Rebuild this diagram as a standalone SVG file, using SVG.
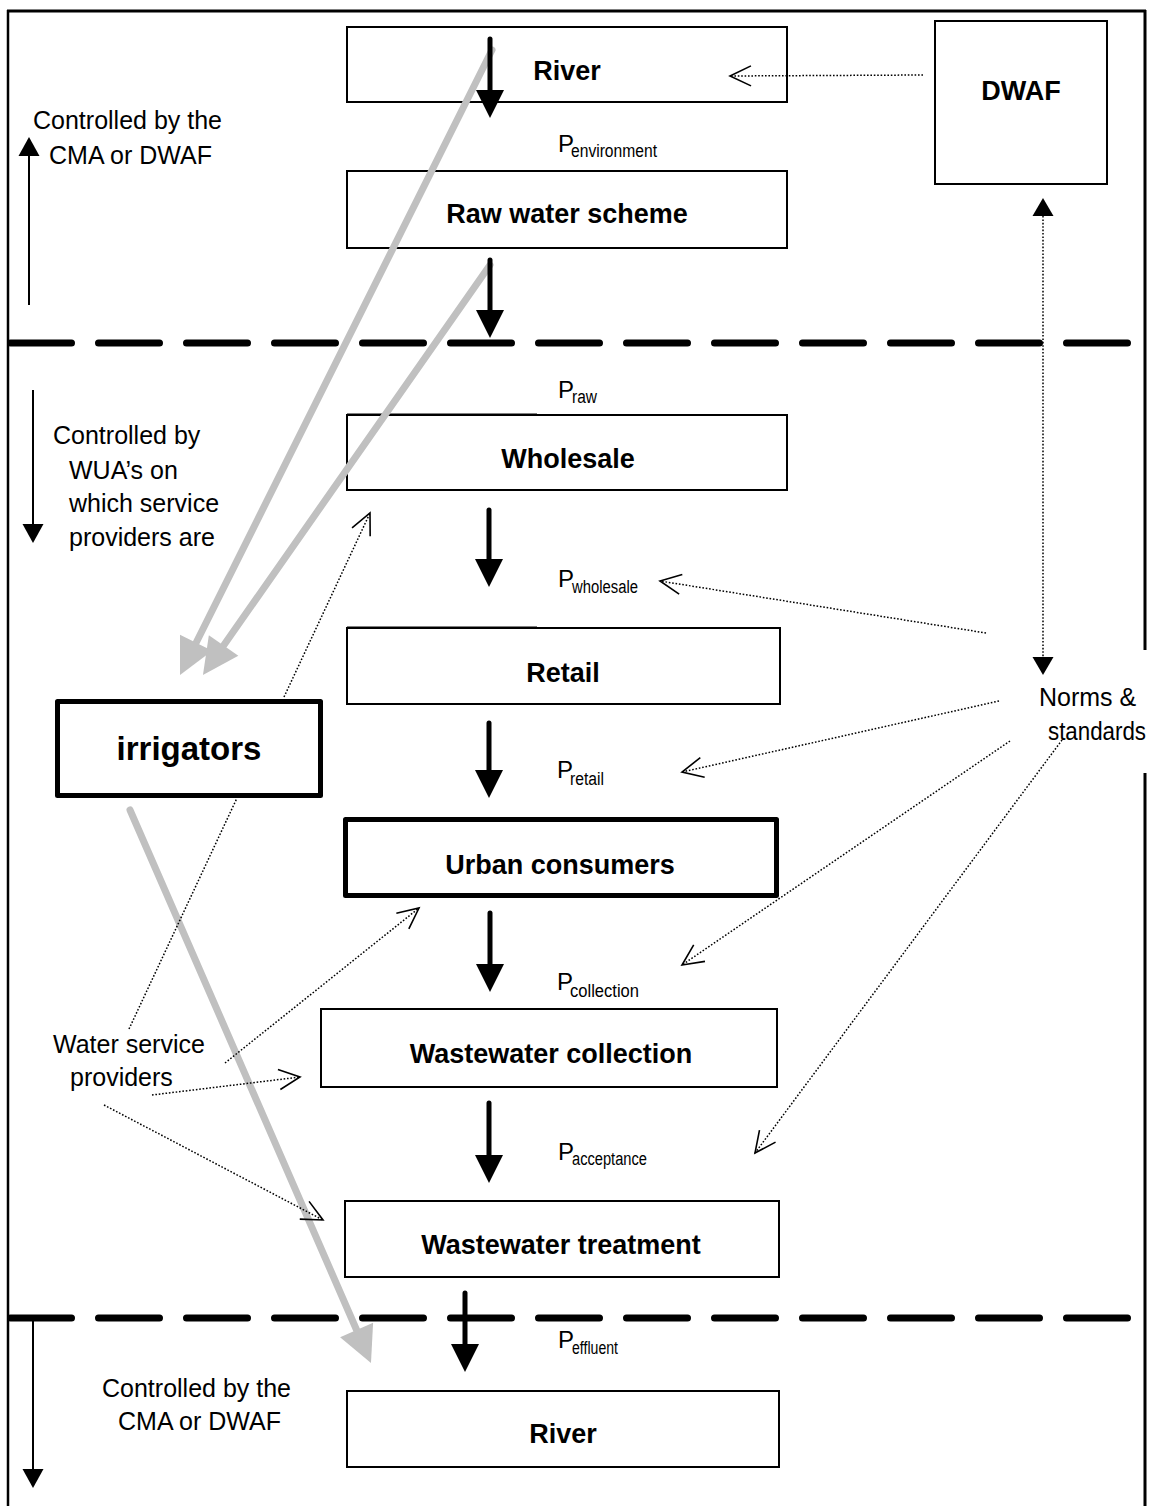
<svg xmlns="http://www.w3.org/2000/svg" width="1156" height="1506" viewBox="0 0 1156 1506">
<defs>
<style>
.box{fill:#fff;stroke:#000;stroke-width:2}
.thick{fill:#fff;stroke:#000;stroke-width:5;stroke-linejoin:round}
.bt{font-family:"Liberation Sans",Arial,sans-serif;font-weight:bold;font-size:27px;text-anchor:middle;fill:#000}
.lbl{font-family:"Liberation Sans",Arial,sans-serif;font-size:25px;fill:#000}
.pl{font-family:"Liberation Sans",Arial,sans-serif;font-size:24px;fill:#000}
.sub{font-size:18px}
.frame{stroke:#000;fill:none}
.dash{stroke:#000;stroke-width:7;stroke-linecap:round;stroke-dasharray:61 27;fill:none}
.flow{stroke:#000;stroke-width:5;stroke-linecap:round;fill:none;marker-end:url(#ah)}
.gray{stroke:#c0c0c0;stroke-width:7;stroke-linecap:round;fill:none;marker-end:url(#gh)}
.dot{stroke:#000;stroke-width:1.5;stroke-dasharray:1.6 1.8;fill:none}
.dotc{marker-end:url(#ch)}
.ctrl{stroke:#000;stroke-width:2;fill:none;marker-end:url(#sh)}
</style>
<marker id="ah" markerUnits="userSpaceOnUse" markerWidth="30" markerHeight="30" refX="0" refY="14" orient="auto" overflow="visible"><path d="M0,0 L28,14 L0,28 z" fill="#000"/></marker>
<marker id="gh" markerUnits="userSpaceOnUse" markerWidth="38" markerHeight="38" refX="0" refY="18" orient="auto" overflow="visible"><path d="M0,0 L36,18 L0,36 z" fill="#c0c0c0"/></marker>
<marker id="sh" markerUnits="userSpaceOnUse" markerWidth="22" markerHeight="22" refX="0" refY="10.5" orient="auto" overflow="visible"><path d="M0,0 L19,10.5 L0,21 z" fill="#000"/></marker>
<marker id="dh" markerUnits="userSpaceOnUse" markerWidth="22" markerHeight="22" refX="0" refY="10.5" orient="auto-start-reverse" overflow="visible"><path d="M0,0 L18,10.5 L0,21 z" fill="#000"/></marker>
<marker id="ch" markerUnits="userSpaceOnUse" markerWidth="24" markerHeight="24" refX="0" refY="0" orient="auto" overflow="visible"><path d="M-21,-10 L0,0 L-21,10" fill="none" stroke="#000" stroke-width="1.6" stroke-dasharray="none"/></marker>
</defs>
<rect width="1156" height="1506" fill="#fff"/>

<g id="frame">
<line class="frame" x1="7" y1="11" x2="1146" y2="11" stroke-width="3"/>
<line class="frame" x1="8" y1="10" x2="8" y2="1506" stroke-width="2.5"/>
<line class="frame" x1="1145" y1="10" x2="1145" y2="650" stroke-width="3"/>
<line class="frame" x1="1145" y1="773" x2="1145" y2="1506" stroke-width="3"/>
<line class="dash" x1="10.5" y1="343" x2="1129.5" y2="343"/>
<line class="dash" x1="10.5" y1="1318" x2="1129.5" y2="1318"/>
</g>

<g id="control-labels">
<line class="ctrl" x1="29" y1="305" x2="29" y2="156"/>
<text class="lbl" x="33" y="129">Controlled by the</text>
<text class="lbl" x="49" y="164">CMA or DWAF</text>
<line class="ctrl" x1="33" y1="390" x2="33" y2="524"/>
<text class="lbl" x="53" y="444">Controlled by</text>
<text class="lbl" x="69" y="479">WUA’s on</text>
<text class="lbl" x="69" y="512">which service</text>
<text class="lbl" x="69" y="546">providers are</text>
<line class="ctrl" x1="33" y1="1318" x2="33" y2="1469"/>
<text class="lbl" x="102" y="1397">Controlled by the</text>
<text class="lbl" x="118" y="1430">CMA or DWAF</text>
</g>

<g id="river-top">
<rect class="box" x="347" y="27" width="440" height="75"/>
<text class="bt" x="567" y="80">River</text>
</g>
<g id="dwaf">
<rect class="box" x="935" y="21" width="172" height="163"/>
<text class="bt" x="1021" y="100">DWAF</text>
</g>
<g id="raw-water-scheme">
<rect class="box" x="347" y="171" width="440" height="77"/>
<text class="bt" x="567" y="223">Raw water scheme</text>
</g>
<g id="wholesale">
<rect class="box" x="347" y="415" width="440" height="75"/>
<line x1="347" y1="414" x2="537" y2="414" stroke="#000" stroke-width="1"/>
<text class="bt" x="568" y="468">Wholesale</text>
</g>
<g id="retail">
<rect class="box" x="347" y="628" width="433" height="76"/>
<line x1="347" y1="627" x2="537" y2="627" stroke="#000" stroke-width="1"/>
<text class="bt" x="563" y="682">Retail</text>
</g>
<g id="irrigators">
<rect class="thick" x="57.5" y="701.5" width="263" height="94"/>
<text class="bt" x="189" y="760" style="font-size:33px">irrigators</text>
</g>
<g id="urban-consumers">
<rect class="thick" x="345.5" y="819.5" width="431" height="76"/>
<text class="bt" x="560" y="874">Urban consumers</text>
</g>
<g id="wastewater-collection">
<rect class="box" x="321" y="1009" width="456" height="78"/>
<text class="bt" x="551" y="1063">Wastewater collection</text>
</g>
<g id="wastewater-treatment">
<rect class="box" x="345" y="1201" width="434" height="76"/>
<text class="bt" x="561" y="1254">Wastewater treatment</text>
</g>
<g id="river-bottom">
<rect class="box" x="347" y="1391" width="432" height="76"/>
<text class="bt" x="563" y="1443">River</text>
</g>
<g id="norms-standards">
<text class="lbl" x="1039" y="706">Norms &amp;</text>
<text class="lbl" x="1048" y="740" textLength="98" lengthAdjust="spacingAndGlyphs">standards</text>
</g>
<g id="water-service-providers">
<text class="lbl" x="53" y="1053">Water service</text>
<text class="lbl" x="70" y="1086">providers</text>
</g>

<g id="price-labels">
<text class="pl" x="558" y="152">P<tspan class="sub" x="571" y="157" textLength="86" lengthAdjust="spacingAndGlyphs">environment</tspan></text>
<text class="pl" x="558" y="398">P<tspan class="sub" x="572" y="403" textLength="25" lengthAdjust="spacingAndGlyphs">raw</tspan></text>
<text class="pl" x="558" y="587">P<tspan class="sub" x="572" y="593" textLength="66" lengthAdjust="spacingAndGlyphs">wholesale</tspan></text>
<text class="pl" x="557" y="778">P<tspan class="sub" x="570" y="785" textLength="34" lengthAdjust="spacingAndGlyphs">retail</tspan></text>
<text class="pl" x="557" y="990">P<tspan class="sub" x="570" y="997" textLength="69" lengthAdjust="spacingAndGlyphs">collection</tspan></text>
<text class="pl" x="558" y="1160">P<tspan class="sub" x="572" y="1165" textLength="75" lengthAdjust="spacingAndGlyphs">acceptance</tspan></text>
<text class="pl" x="558" y="1348">P<tspan class="sub" x="572" y="1354" textLength="46" lengthAdjust="spacingAndGlyphs">effluent</tspan></text>
</g>

<g id="connectors">
<line class="gray" x1="492" y1="50" x2="196.1" y2="642.8"/>
<line class="gray" x1="490" y1="265" x2="223.6" y2="645.5"/>
<line class="gray" x1="130" y1="810" x2="356.6" y2="1330"/>
<line class="flow" x1="490" y1="39" x2="490" y2="90"/>
<line class="flow" x1="490" y1="260" x2="490" y2="310"/>
<line class="flow" x1="489" y1="510" x2="489" y2="559"/>
<line class="flow" x1="489" y1="723" x2="489" y2="770"/>
<line class="flow" x1="490" y1="913" x2="490" y2="964"/>
<line class="flow" x1="489" y1="1103" x2="489" y2="1155"/>
<line class="flow" x1="465" y1="1293" x2="465" y2="1344"/>
<line class="dot dotc" x1="923" y1="75" x2="730" y2="76"/>
<line class="dot" x1="1043" y1="216" x2="1043" y2="657" marker-start="url(#dh)" marker-end="url(#dh)"/>
<line class="dot dotc" x1="986" y1="633" x2="660" y2="581"/>
<line class="dot dotc" x1="999" y1="701" x2="682" y2="772"/>
<line class="dot dotc" x1="1010" y1="741" x2="682" y2="965"/>
<line class="dot dotc" x1="1062" y1="740" x2="755" y2="1153"/>
<line class="dot" x1="129" y1="1029" x2="237" y2="798"/>
<line class="dot dotc" x1="284" y1="697" x2="370" y2="513"/>
<line class="dot dotc" x1="225" y1="1063" x2="419" y2="908"/>
<line class="dot dotc" x1="152" y1="1095" x2="300" y2="1077"/>
<line class="dot dotc" x1="104" y1="1105" x2="323" y2="1220"/>
</g>
</svg>
